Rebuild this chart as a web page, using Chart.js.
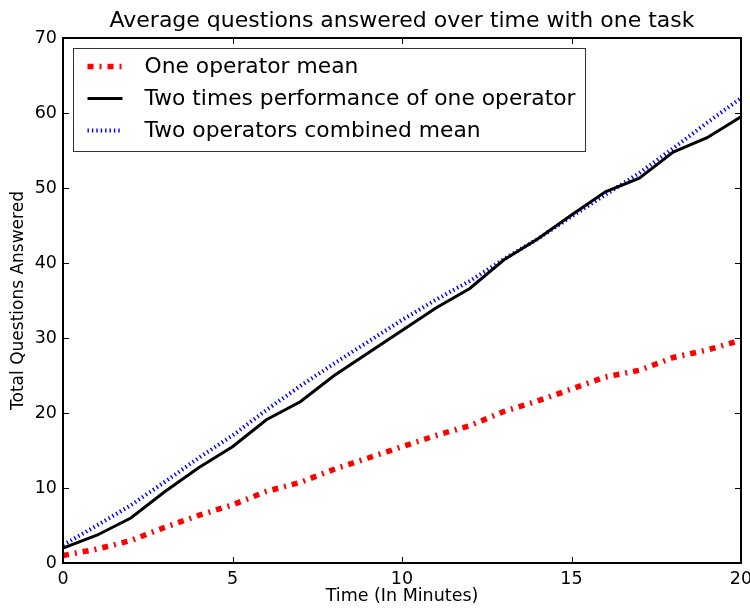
<!DOCTYPE html>
<html>
<head>
<meta charset="utf-8">
<script src="https://cdn.jsdelivr.net/npm/chart.js@4.4.0/dist/chart.umd.min.js"></script>
<style>
  body { margin: 0; background: #fff; }
</style>
</head>
<body>
<canvas id="questionsCanvas" width="750" height="611"></canvas>
<script>
// Temps en minutes (axe X)
const minutes = [0, 1, 2, 3, 4, 5, 6, 7, 8, 9, 10, 11, 12, 13, 14, 15, 16, 17, 18, 19, 20];

// Moyenne d'un operateur
const oneOperatorMean = [1.0, 1.85, 3.0, 4.75, 6.35, 7.75, 9.55, 10.75, 12.5, 14.0, 15.5, 17.0, 18.3, 20.2, 21.6, 23.2, 24.8, 25.7, 27.4, 28.4, 29.7];
// Deux fois la performance d'un operateur
const twoTimesOne = [2.0, 3.7, 6.0, 9.5, 12.7, 15.5, 19.1, 21.5, 25.0, 28.0, 31.0, 34.0, 36.6, 40.4, 43.2, 46.4, 49.5, 51.3, 54.8, 56.7, 59.5];
// Moyenne combinee de deux operateurs
const twoOperatorsMean = [2.4, 5.0, 7.7, 10.8, 14.0, 17.0, 20.4, 23.6, 26.6, 29.5, 32.4, 35.1, 37.6, 40.5, 43.2, 46.2, 49.1, 52.0, 55.3, 58.7, 62.0];

const seriesLabels = ['One operator mean', 'Two times performance of one operator', 'Two operators combined mean'];
const xTicks = [0, 5, 10, 15, 20];
const yTicks = [0, 10, 20, 30, 40, 50, 60, 70];

const chartTitle = 'Average questions answered over time with one task';
const xTitle = 'Time (In Minutes)';
const yTitle = 'Total Questions Answered';

const FONT = 'DejaVu Sans';

function toPoints(values) {
    return minutes.map((m, i) => ({ x: m, y: values[i] }));
}

// Cadre, graduations interieures, titre et legende facon matplotlib
const mplStyle = {
    id: 'mplStyle',
    afterDraw(chart) {
        const ctx = chart.ctx;
        const area = chart.chartArea;
        const xs = chart.scales.x;
        const ys = chart.scales.y;
        ctx.save();

        // graduations vers l'interieur, sur les quatre cotes
        ctx.strokeStyle = '#000';
        ctx.lineWidth = 1;
        const tl = 6;
        ctx.beginPath();
        xTicks.forEach(v => {
            const px = Math.round(xs.getPixelForValue(v)) + 0.5;
            ctx.moveTo(px, area.bottom); ctx.lineTo(px, area.bottom - tl);
            ctx.moveTo(px, area.top); ctx.lineTo(px, area.top + tl);
        });
        yTicks.forEach(v => {
            const py = Math.round(ys.getPixelForValue(v)) + 0.5;
            ctx.moveTo(area.left, py); ctx.lineTo(area.left + tl, py);
            ctx.moveTo(area.right, py); ctx.lineTo(area.right - tl, py);
        });
        ctx.stroke();

        // cadre
        ctx.lineWidth = 2;
        ctx.strokeRect(area.left, area.top, area.right - area.left, area.bottom - area.top);

        // titre
        ctx.fillStyle = '#000';
        ctx.font = '22px "' + FONT + '"';
        ctx.textAlign = 'center';
        ctx.textBaseline = 'alphabetic';
        ctx.fillText(chartTitle, (area.left + area.right) / 2, 27);

        // legende
        ctx.font = '21.8px "' + FONT + '"';
        const boxLeft = area.left + 10.5;
        const boxTop = area.top + 10.5;
        const textX = boxLeft + 71;
        let maxW = 0;
        seriesLabels.forEach(t => { maxW = Math.max(maxW, ctx.measureText(t).width); });
        const boxW = textX - boxLeft + maxW + 10;
        const boxH = 103;
        ctx.fillStyle = '#fff';
        ctx.fillRect(boxLeft, boxTop, boxW, boxH);
        ctx.strokeStyle = '#333';
        ctx.lineWidth = 1;
        ctx.strokeRect(boxLeft, boxTop, boxW, boxH);

        chart.data.datasets.forEach((ds, i) => {
            const cy = boxTop + 18 + i * 32;
            ctx.save();
            ctx.strokeStyle = ds.borderColor;
            ctx.lineWidth = ds.borderWidth;
            ctx.setLineDash(ds.borderDash || []);
            ctx.lineCap = 'butt';
            ctx.beginPath();
            ctx.moveTo(boxLeft + 14, cy);
            ctx.lineTo(boxLeft + 49, cy);
            ctx.stroke();
            ctx.restore();
            ctx.fillStyle = '#000';
            ctx.textAlign = 'left';
            ctx.textBaseline = 'middle';
            ctx.fillText(ds.label, textX, cy + 1);
        });
        ctx.restore();
    }
};

const ctx = document.getElementById('questionsCanvas').getContext('2d');
new Chart(ctx, {
    type: 'line',
    data: {
        datasets: [{
            label: seriesLabels[0],
            data: toPoints(oneOperatorMean),
            borderColor: '#ff0000',
            borderWidth: 5.5,
            borderDash: [6, 6, 2, 6]
        }, {
            label: seriesLabels[1],
            data: toPoints(twoTimesOne),
            borderColor: '#000000',
            borderWidth: 3
        }, {
            label: seriesLabels[2],
            data: toPoints(twoOperatorsMean),
            borderColor: '#0000ff',
            borderWidth: 4,
            borderDash: [1.4, 3]
        }]
    },
    options: {
        responsive: false,
        animation: false,
        devicePixelRatio: 1,
        layout: { padding: { top: 38, right: 9, left: 0, bottom: 0 } },
        elements: {
            point: { radius: 0 },
            line: { tension: 0, fill: false, borderCapStyle: 'butt' }
        },
        plugins: {
            legend: { display: false },
            title: { display: false },
            tooltip: { enabled: false }
        },
        scales: {
            x: {
                type: 'linear',
                min: 0,
                max: 20,
                afterBuildTicks: s => { s.ticks = xTicks.map(v => ({ value: v })); },
                afterFit: s => { s.height = 48; s.paddingLeft = 0; s.paddingRight = 0; },
                grid: { display: false, drawTicks: false },
                border: { display: false },
                ticks: { color: '#000', font: { family: FONT, size: 17.5 }, padding: 6, maxRotation: 0 },
                title: { display: true, text: xTitle, color: '#000', font: { family: FONT, size: 17.5 }, padding: { top: 0, bottom: 4 } }
            },
            y: {
                type: 'linear',
                min: 0,
                max: 70,
                afterBuildTicks: s => { s.ticks = yTicks.map(v => ({ value: v })); },
                afterFit: s => { s.width = 63; s.paddingTop = 0; s.paddingBottom = 0; },
                grid: { display: false, drawTicks: false },
                border: { display: false },
                ticks: { color: '#000', font: { family: FONT, size: 17.5 }, padding: 6 },
                title: { display: true, text: yTitle, color: '#000', font: { family: FONT, size: 17 }, padding: { top: 8, bottom: 0 } }
            }
        }
    },
    plugins: [mplStyle]
});
</script>
</body>
</html>
